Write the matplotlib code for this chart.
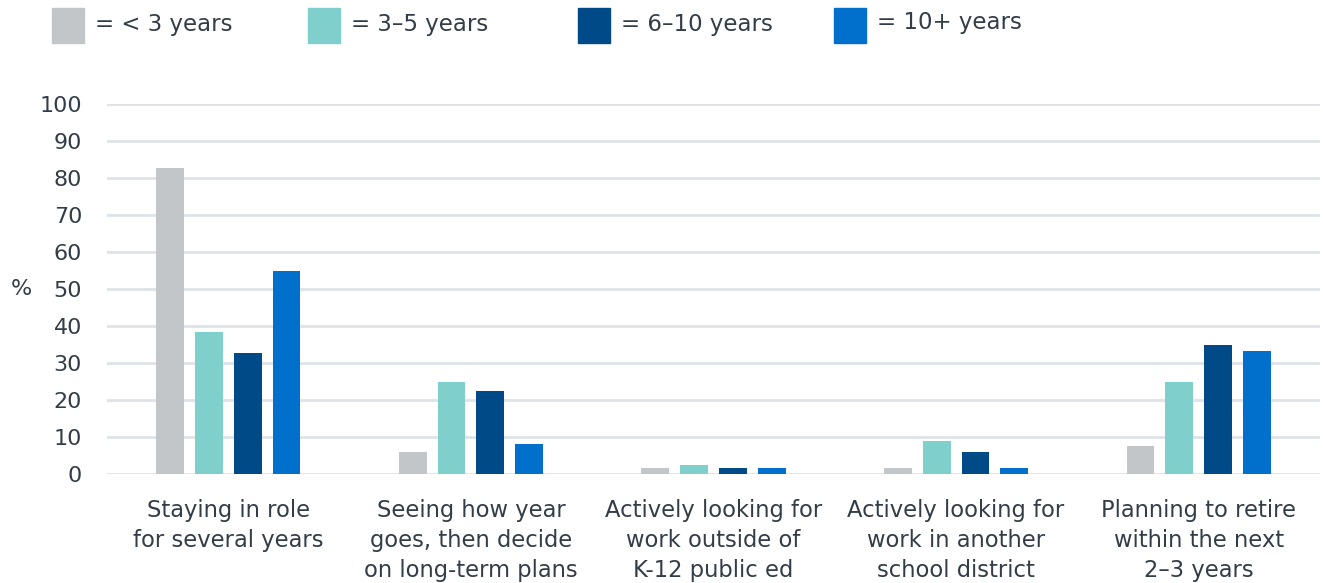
import matplotlib.pyplot as plt
import numpy as np
from matplotlib.patches import Rectangle

categories = [
    "Staying in role\nfor several years",
    "Seeing how year\ngoes, then decide\non long-term plans",
    "Actively looking for\nwork outside of\nK-12 public ed",
    "Actively looking for\nwork in another\nschool district",
    "Planning to retire\nwithin the next\n2\u20133 years",
]
series_names = ["= < 3 years", "= 3\u20135 years", "= 6\u201310 years", "= 10+ years"]
under_3 = [82.7, 6, 1.7, 1.7, 7.5]
yrs_3_5 = [38.5, 25, 2.3, 8.9, 25]
yrs_6_10 = [32.8, 22.4, 1.7, 6, 34.8]
yrs_10_plus = [55, 8, 1.7, 1.7, 33.3]
yticks = [0, 10, 20, 30, 40, 50, 60, 70, 80, 90, 100]

colors = ["#c3c6c9", "#7fcfcd", "#004b87", "#0070cc"]
text_color = "#333d48"
grid_color = "#dde3e8"

plt.rcParams["font.family"] = ["DejaVu Sans"]

W, H = 1323, 583
fig = plt.figure(figsize=(W / 100, H / 100), dpi=100)
ax = fig.add_axes([107 / W, 1 - 474 / H, (1320 - 107) / W, 370 / H])

series = [under_3, yrs_3_5, yrs_6_10, yrs_10_plus]
x = np.arange(len(categories))
step = 0.16
width = 0.115
for i, (vals, c) in enumerate(zip(series, colors)):
    ax.bar(x + (i - 1.5) * step, vals, width=width, color=c, zorder=3)

ax.set_xlim(-0.5, len(categories) - 0.5)
ax.set_ylim(0, 100)
ax.set_yticks(yticks)
ax.yaxis.grid(True, color=grid_color, linewidth=2, zorder=0)
ax.set_axisbelow(True)
for s in ax.spines.values():
    s.set_visible(False)
ax.tick_params(axis="y", length=0, labelsize=16, labelcolor=text_color, pad=18)
ax.tick_params(axis="x", length=0, labelsize=16.3, labelcolor=text_color, pad=18)
ax.set_xticks(x)
ax.set_xticklabels(categories, linespacing=1.4, va="top")
for lbl in ax.get_yticklabels():
    lbl.set_clip_on(False)
ax.text(-0.0709, 0.5, "%", transform=ax.transAxes, fontsize=16, color=text_color,
        ha="center", va="center")

# legend drawn manually along the top
leg_x = [52, 308, 578, 834]
leg_y = [25, 25, 25, 22]
for lx, ly, name, c in zip(leg_x, leg_y, series_names, colors):
    fig.add_artist(Rectangle((lx / W, 1 - 43 / H), 32 / W, 35 / H,
                             transform=fig.transFigure, color=c))
    fig.text((lx + 43) / W, 1 - ly / H, name, fontsize=16.5, color=text_color,
             ha="left", va="center")

fig.savefig("out.png", dpi=100)
